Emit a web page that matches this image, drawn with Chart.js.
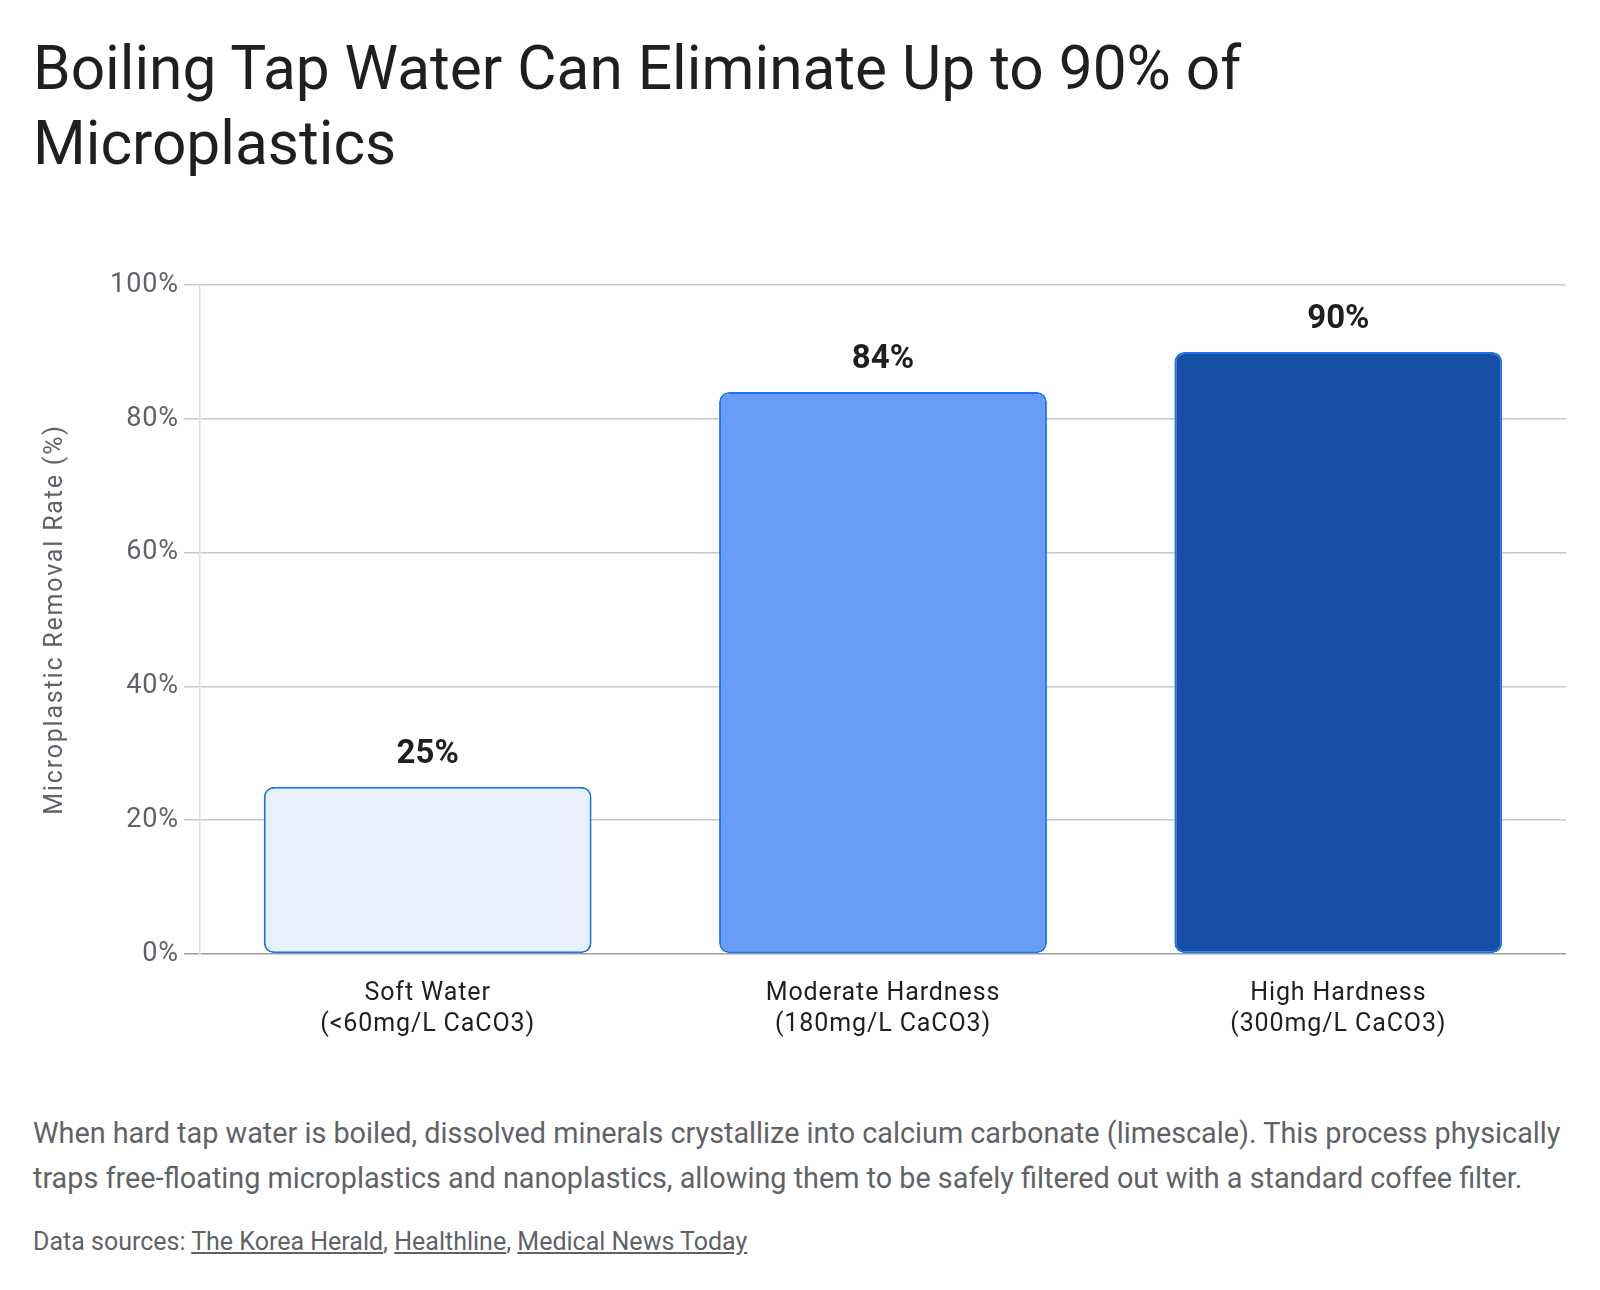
<!DOCTYPE html>
<html>
<head>
<meta charset="utf-8">
<script src="https://cdn.jsdelivr.net/npm/chart.js@4/dist/chart.umd.min.js"></script>
<style>
  html, body { margin: 0; padding: 0; background: #ffffff; }
  body { width: 1600px; height: 1290px; position: relative; overflow: hidden; }
  #title { position: absolute; left: 33px; top: 31px; margin: 0; font-family: "Roboto", sans-serif; font-weight: 400; font-size: 60.4px; line-height: 75px; color: #1f1f1f; }
  #chartBox { position: absolute; left: 34px; top: 263px; width: 1532px; height: 791px; }
  #desc { position: absolute; left: 33px; top: 1111px; margin: 0; font-family: "Roboto", sans-serif; font-size: 28.8px; line-height: 45px; color: #5f6368; white-space: nowrap; }
  #sources { position: absolute; left: 33px; top: 1227px; margin: 0; font-family: "Roboto", sans-serif; font-size: 25px; line-height: 30px; color: #5f6368; white-space: nowrap; }
  #sources a { color: #5f6368; text-decoration: underline; }
</style>
</head>
<body>
<h1 id="title">Boiling Tap Water Can Eliminate Up to 90% of<br>Microplastics</h1>
<div id="chartBox"><canvas id="c"></canvas></div>
<p id="desc">When hard tap water is boiled, dissolved minerals crystallize into calcium carbonate (limescale). This process physically<br>traps free-floating microplastics and nanoplastics, allowing them to be safely filtered out with a standard coffee filter.</p>
<p id="sources">Data sources: <a>The Korea Herald</a>, <a>Healthline</a>, <a>Medical News Today</a></p>
<script>
const categories = [
  ["Soft Water", "(<60mg/L CaCO3)"],
  ["Moderate Hardness", "(180mg/L CaCO3)"],
  ["High Hardness", "(300mg/L CaCO3)"]
];
const removalRates = [25, 84, 90];
const yAxisTitle = "Microplastic Removal Rate (%)";
const yMin = 0;
const yMax = 100;
const yStep = 20;

// text tracking: y-axis title wide, value labels none, tick labels slight
const tracking = {
  id: 'tracking',
  beforeDraw(chart) { chart.ctx.letterSpacing = '1.8px'; },
  beforeDatasetsDraw(chart) { chart.ctx.letterSpacing = '0px'; }
};

const valueLabels = {
  id: 'valueLabels',
  afterDatasetsDraw(chart) {
    const ctx = chart.ctx;
    const meta = chart.getDatasetMeta(0);
    ctx.save();
    ctx.letterSpacing = '0px';
    ctx.font = 'bold 33px Roboto, sans-serif';
    ctx.fillStyle = '#1f1f1f';
    ctx.textAlign = 'center';
    ctx.textBaseline = 'alphabetic';
    meta.data.forEach((bar, i) => {
      ctx.fillText(chart.data.datasets[0].data[i] + '%', bar.x, bar.y - 24);
    });
    ctx.restore();
    ctx.letterSpacing = '0.9px';
  },
  afterDraw(chart) { chart.ctx.letterSpacing = '0px'; }
};

new Chart(document.getElementById('c'), {
  type: 'bar',
  data: {
    labels: categories,
    datasets: [{
      data: removalRates,
      backgroundColor: ['#e8f0fe', '#669df6', '#174ea6'],
      borderColor: '#1a73e8',
      borderWidth: 2,
      borderRadius: 10,
      borderSkipped: false,
      barPercentage: 0.72,
      categoryPercentage: 1.0
    }]
  },
  options: {
    responsive: true,
    maintainAspectRatio: false,
    animation: false,
    layout: { padding: { top: 22, right: 0, bottom: 0, left: 0 } },
    plugins: { legend: { display: false }, tooltip: { enabled: false } },
    scales: {
      x: {
        grid: { display: false, drawTicks: false },
        border: { display: false },
        ticks: { z: 1, color: '#1f1f1f', font: { family: 'Roboto', size: 25, lineHeight: 1.24 }, padding: 24 },
        afterFit(scale) { scale.height = 100; }
      },
      y: {
        min: yMin,
        max: yMax,
        ticks: {
          z: 1,
          stepSize: yStep,
          color: '#5f6368',
          font: { family: 'Roboto', size: 27 },
          padding: 5,
          callback: (v) => v + '%'
        },
        grid: {
          color: (c) => (c.tick && c.tick.value === 0) ? '#9e9e9e' : '#c8c8c8',
          lineWidth: 1.5,
          tickLength: 16
        },
        border: { display: true, color: '#dddddd', width: 1.5 },
        title: {
          display: true,
          text: yAxisTitle,
          color: '#5f6368',
          font: { family: 'Roboto', size: 25 },
          padding: { top: 7, bottom: 0 }
        },
        afterFit(scale) { scale.width = 166; }
      }
    }
  },
  plugins: [tracking, valueLabels]
});
</script>
</body>
</html>
